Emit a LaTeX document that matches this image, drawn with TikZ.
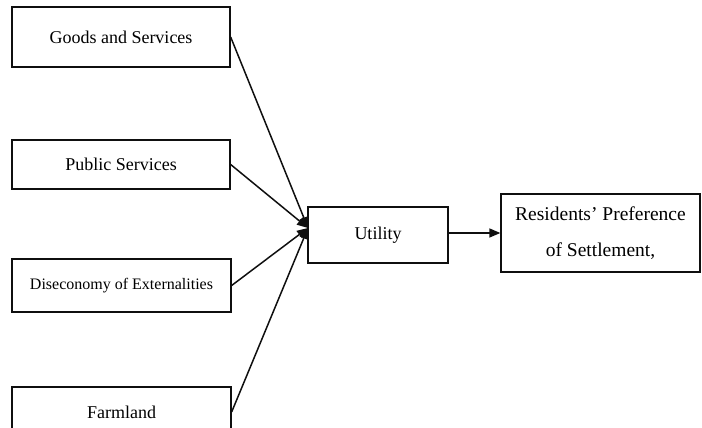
\documentclass[tikz,border=0pt]{standalone}
\usepackage{fontspec}
\setmainfont{Liberation Serif}
\usepackage{tikz}
\usetikzlibrary{arrows.meta, positioning, calc}
\definecolor{InkDark}{RGB}{15,15,15}

\begin{document}
\begin{tikzpicture}[x=1pt,y=1pt,
    factor/.style={draw=InkDark,line width=1.3pt,inner sep=0pt,
      minimum width=218pt,font=\fontsize{18}{21}\selectfont},
    midbox/.style={draw=InkDark,line width=1.3pt,inner sep=0pt,align=center},
    feed/.style={draw=InkDark,line width=1.5pt,
      -{Triangle[length=11pt,width=9pt]}}]
        \useasboundingbox (0,0) rectangle (702,428);
        % Factors on the left
        \node[factor,minimum height=60pt] (goods) at (121,391) {Goods and Services};
        \node[factor,minimum height=49pt] (public) at (121,263.5) {Public Services};
        \node[factor,minimum height=53pt,minimum width=219pt,
          font=\fontsize{16}{19}\selectfont] (disecon) at (121.5,142.5)
          {Diseconomy of Externalities};
        \node[factor,minimum height=50pt,minimum width=219pt] (farm) at (121.5,16) {Farmland};
        % Utility and preference
        \node[midbox,minimum width=140pt,minimum height=56pt,
          font=\fontsize{18}{21}\selectfont] (utility) at (378,193) {Utility};
        \node[midbox,minimum width=199pt,minimum height=78pt,
          font=\fontsize{19.5}{36}\selectfont] (pref) at (600.5,195)
          {Residents' Preference\\of Settlement,};
        \coordinate (hub) at (308,200);
        % Arrows into utility
        \foreach \src in {goods,public,disecon,farm}{
          \draw[feed] (\src.east) -- (hub);}
        \draw[feed] (utility.east |- pref.west) -- (pref.west);
      \end{tikzpicture}
\end{document}
